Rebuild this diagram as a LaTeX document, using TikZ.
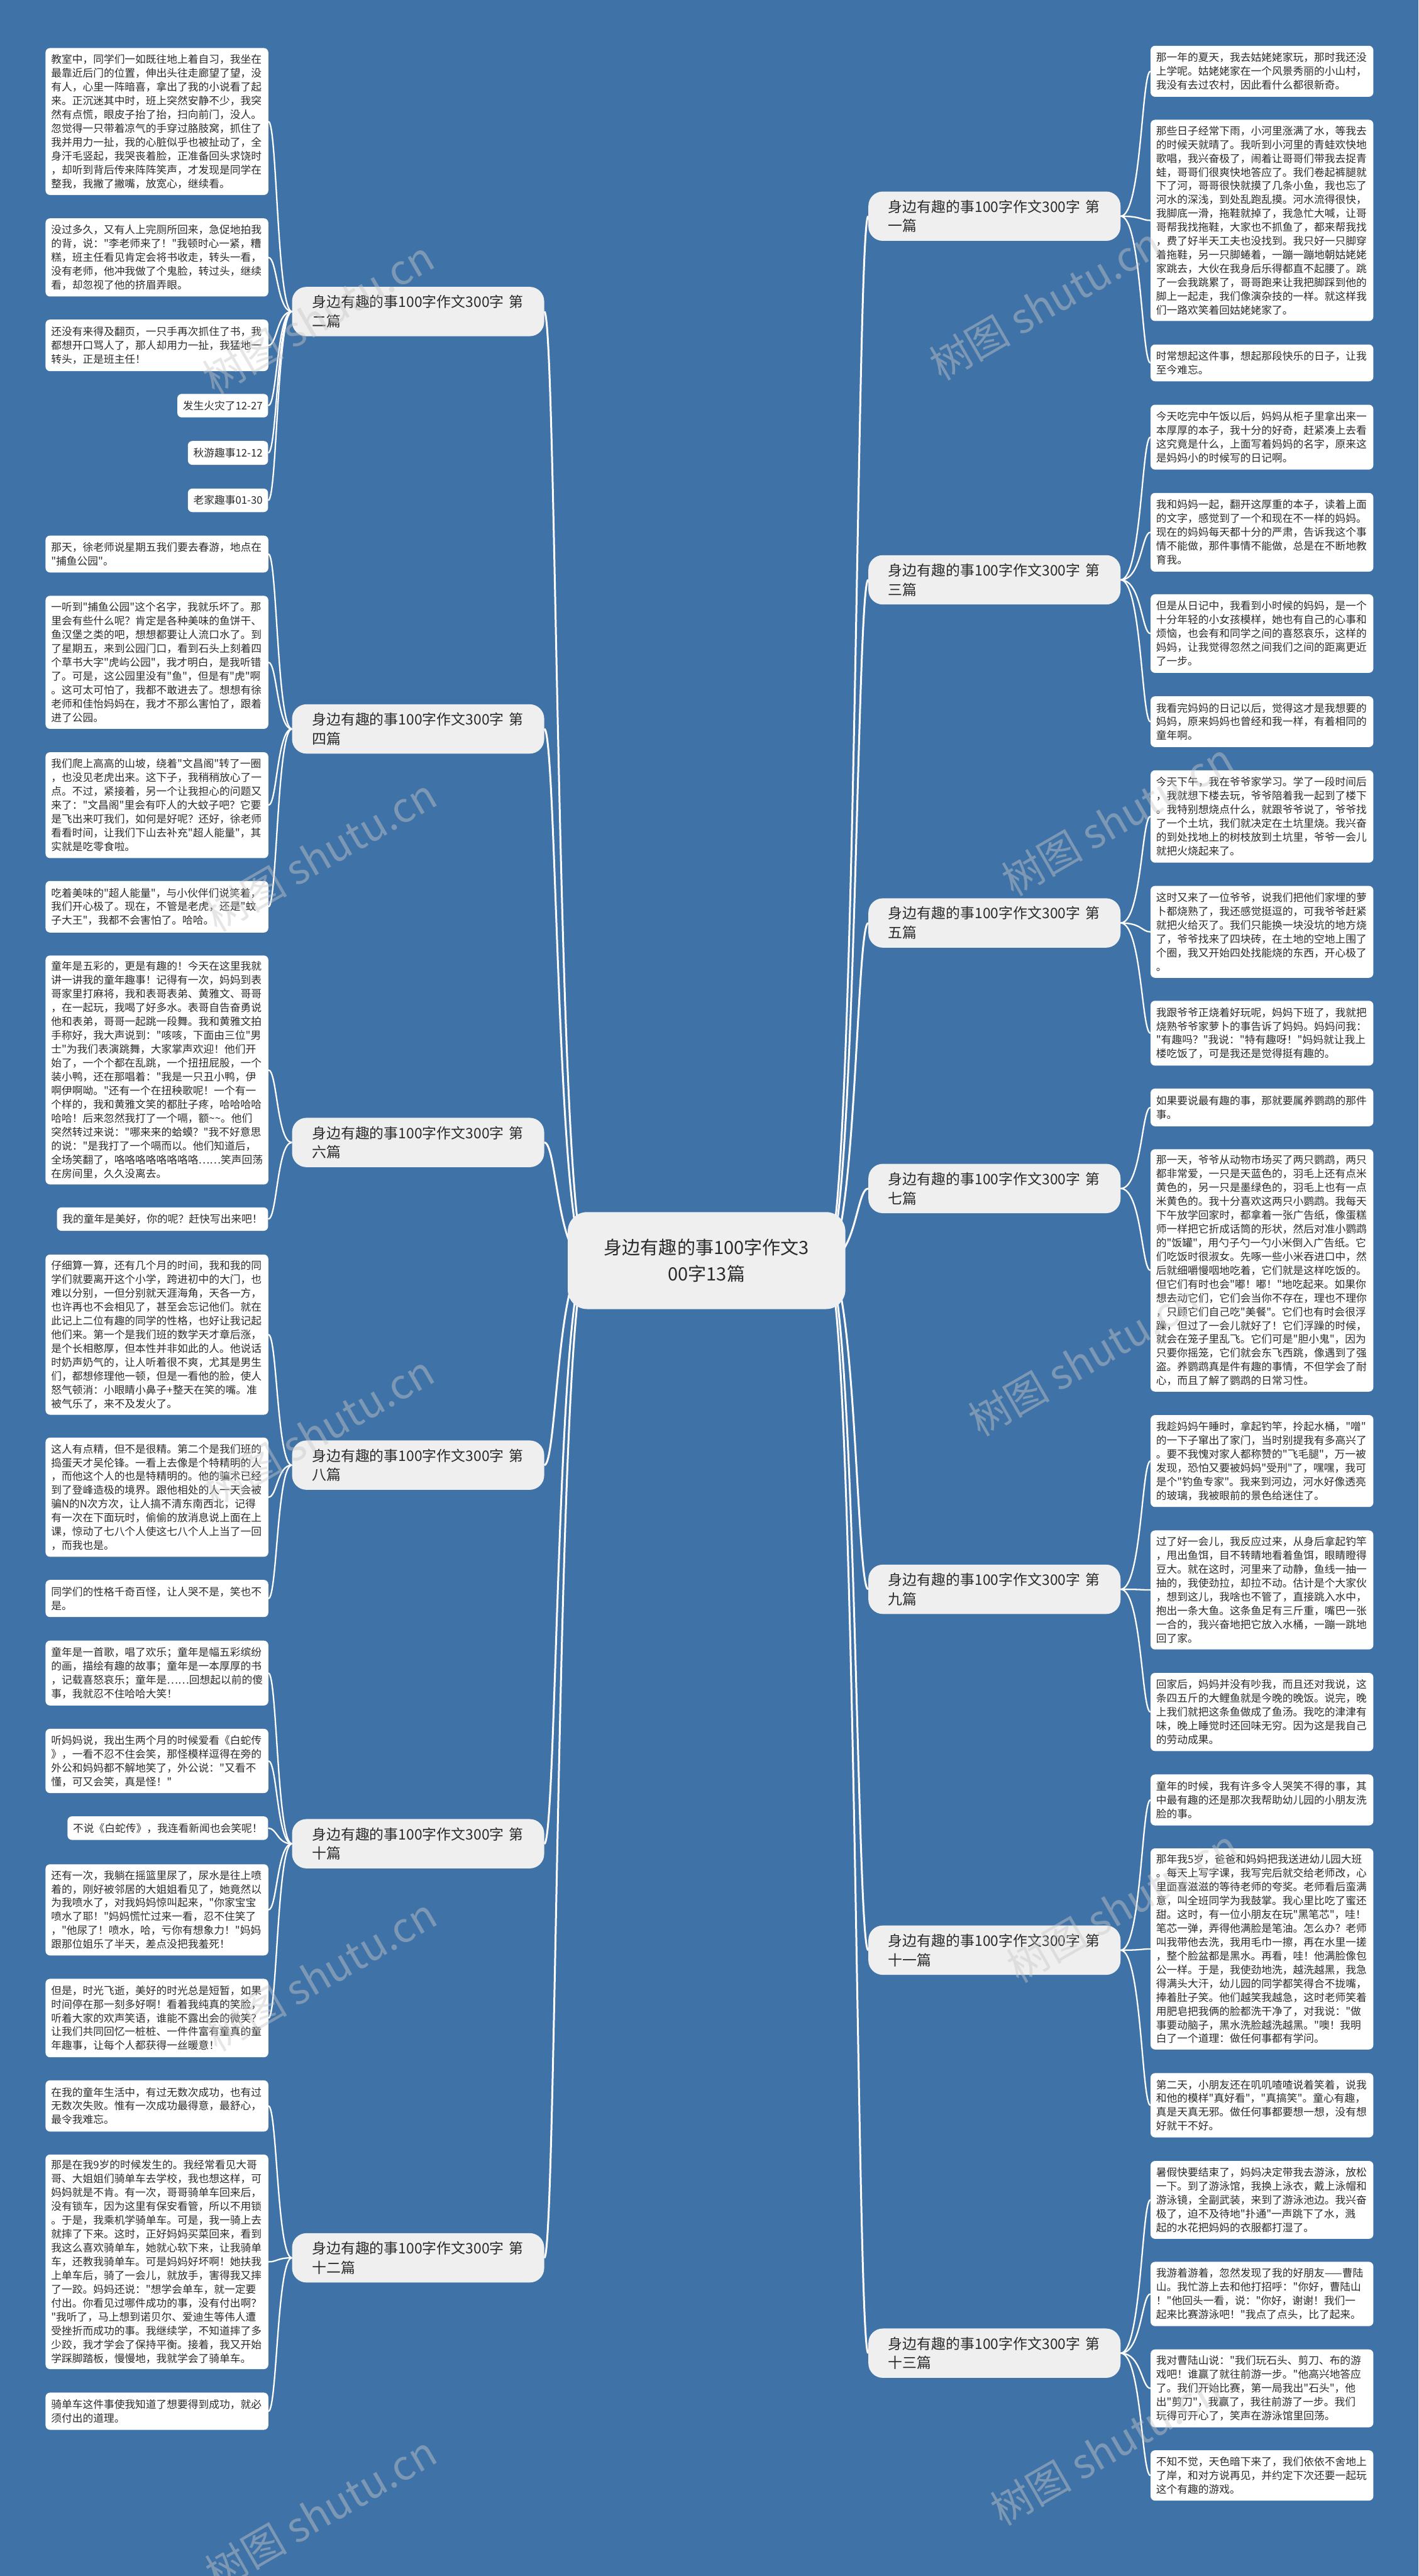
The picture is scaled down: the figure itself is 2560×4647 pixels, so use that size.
\documentclass[tikz,border=0pt]{standalone}
\usepackage{fontspec}
\newfontfamily\cjkf{Noto Sans CJK SC}
\usetikzlibrary{backgrounds}
\definecolor{bgblue}{HTML}{3F72A6}
\definecolor{txt}{HTML}{2B2B2B}
\definecolor{nfill}{HTML}{EFEFEF}
\definecolor{wm}{HTML}{C8C8C8}
\tikzset{
  leaf/.style={fill=white, rounded corners=8pt, inner xsep=10pt, inner ysep=0pt, align=left, text=txt, font=\cjkf\fontsize{19}{24.9}\selectfont},
  branch/.style={fill=nfill, rounded corners=26pt, inner xsep=36pt, inner ysep=0pt, minimum height=89pt, text width=383pt, align=left, text=txt, font=\cjkf\fontsize{26}{35}\selectfont},
  rootnode/.style={fill=nfill, rounded corners=35pt, minimum width=501pt, minimum height=175pt, align=center, text=txt, font=\cjkf\fontsize{33}{48}\selectfont},
  conn/.style={draw=white, line width=2.6pt},
  rconn/.style={draw=white, line width=3.4pt},
  wmark/.style={text=wm, opacity=0.45, font=\cjkf\fontsize{74}{74}\selectfont, rotate=30}
}
\newcommand\LeafL[4]{\node[leaf,anchor=north west,text width=382pt,minimum height=#3pt] (#1) at (82,#2) {#4};}
\newcommand\LeafR[4]{\node[leaf,anchor=north west,text width=382pt,minimum height=#3pt] (#1) at (2076,#2) {#4};}
\newcommand\LeafS[4]{\node[leaf,anchor=north east,minimum height=#3pt] (#1) at (484,#2) {#4};}
\newcommand\ConnL[2]{\draw[conn] (#1.west) .. controls (sL |- #1.west) and (sL |- #2.east) .. (#2.east);}
\newcommand\ConnR[2]{\draw[conn] (#1.east) .. controls (sR |- #1.east) and (sR |- #2.west) .. (#2.west);}
\newcommand\RootL[1]{\draw[rconn] (rootLs) .. controls (sRootL |- rootLs) and (sRootL |- #1.east) .. (#1.east);}
\newcommand\RootR[1]{\draw[rconn] (rootRs) .. controls (sRootR |- rootRs) and (sRootR |- #1.west) .. (#1.west);}
\begin{document}
\begin{tikzpicture}[x=1pt,y=-1pt]
\begin{scope}[on background layer]
\fill[bgblue] (0,0) rectangle (2560,4647);
\end{scope}
\useasboundingbox (0,0) rectangle (2560,4647);
\coordinate (sL) at (500,0);
\coordinate (sR) at (2060,0);
\coordinate (rootLs) at (1060,2274);
\coordinate (rootRs) at (1490,2274);
\coordinate (sRootL) at (1005,0);
\coordinate (sRootR) at (1545,0);

% root
\node[rootnode] (root) at (1275,2274) {身边有趣的事100字作文3\\00字13篇};

% branches
\node[branch] (B1) at (1794.5,390) {身边有趣的事100字作文300字 第\\一篇};
\node[branch] (B3) at (1794.5,1046) {身边有趣的事100字作文300字 第\\三篇};
\node[branch] (B5) at (1794.5,1665) {身边有趣的事100字作文300字 第\\五篇};
\node[branch] (B7) at (1794.5,2144) {身边有趣的事100字作文300字 第\\七篇};
\node[branch] (B9) at (1794.5,2867) {身边有趣的事100字作文300字 第\\九篇};
\node[branch] (B11) at (1794.5,3518) {身边有趣的事100字作文300字 第\\十一篇};
\node[branch] (B13) at (1794.5,4245) {身边有趣的事100字作文300字 第\\十三篇};
\node[branch] (B2) at (754.5,562) {身边有趣的事100字作文300字 第\\二篇};
\node[branch] (B4) at (754.5,1315) {身边有趣的事100字作文300字 第\\四篇};
\node[branch] (B6) at (754.5,2061) {身边有趣的事100字作文300字 第\\六篇};
\node[branch] (B8) at (754.5,2643) {身边有趣的事100字作文300字 第\\八篇};
\node[branch] (B10) at (754.5,3326) {身边有趣的事100字作文300字 第\\十篇};
\node[branch] (B12) at (754.5,4073) {身边有趣的事100字作文300字 第\\十二篇};

% left leaves
\LeafL{L2a}{86.5}{265}{教室中，同学们一如既往地上着自习，我坐在\\最靠近后门的位置，伸出头往走廊望了望，没\\有人，心里一阵暗喜，拿出了我的小说看了起\\来。正沉迷其中时，班上突然安静不少，我突\\然有点慌，眼皮子抬了抬，扫向前门，没人。\\忽觉得一只带着凉气的手穿过胳肢窝，抓住了\\我并用力一扯，我的心脏似乎也被扯动了，全\\身汗毛竖起，我哭丧着脸，正准备回头求饶时\\，却听到背后传来阵阵笑声，才发现是同学在\\整我，我撇了撇嘴，放宽心，继续看。}
\LeafL{L2b}{393.7}{141}{没过多久，又有人上完厕所回来，急促地拍我\\的背，说："李老师来了！"我顿时心一紧，糟\\糕，班主任看见肯定会将书收走，转头一看，\\没有老师，他冲我做了个鬼脸，转过头，继续\\看，却忽视了他的挤眉弄眼。}
\LeafL{L2c}{576.3}{93}{还没有来得及翻页，一只手再次抓住了书，我\\都想开口骂人了，那人却用力一扯，我猛地一\\转头，正是班主任！}
\LeafS{L2d}{710.4}{42.4}{发生火灾了12-27}
\LeafS{L2e}{795.3}{43}{秋游趣事12-12}
\LeafS{L2f}{881.2}{42.4}{老家趣事01-30}
\LeafL{L4a}{966}{66.5}{那天，徐老师说星期五我们要去春游，地点在\\"捕鱼公园"。}
\LeafL{L4b}{1074.6}{240}{一听到"捕鱼公园"这个名字，我就乐坏了。那\\里会有些什么呢？肯定是各种美味的鱼饼干、\\鱼汉堡之类的吧，想想都要让人流口水了。到\\了星期五，来到公园门口，看到石头上刻着四\\个草书大字"虎屿公园"，我才明白，是我听错\\了。可是，这公园里没有"鱼"，但是有"虎"啊\\。这可太可怕了，我都不敢进去了。想想有徐\\老师和佳怡妈妈在，我才不那么害怕了，跟着\\进了公园。}
\LeafL{L4c}{1356.8}{191}{我们爬上高高的山坡，绕着"文昌阁"转了一圈\\，也没见老虎出来。这下子，我稍稍放心了一\\点。不过，紧接着，另一个让我担心的问题又\\来了："文昌阁"里会有吓人的大蚊子吧？它要\\是飞出来叮我们，如何是好呢？还好，徐老师\\看看时间，让我们下山去补充"超人能量"，其\\实就是吃零食啦。}
\LeafL{L4d}{1589}{93}{吃着美味的"超人能量"，与小伙伴们说笑着，\\我们开心极了。现在，不管是老虎，还是"蚊\\子大王"，我都不会害怕了。哈哈。}
\LeafL{L6a}{1723.5}{413}{童年是五彩的，更是有趣的！今天在这里我就\\讲一讲我的童年趣事！记得有一次，妈妈到表\\哥家里打麻将，我和表哥表弟、黄雅文、哥哥\\，在一起玩，我喝了好多水。表哥自告奋勇说\\他和表弟，哥哥一起跳一段舞。我和黄雅文拍\\手称好，我大声说到："咳咳，下面由三位"男\\士"为我们表演跳舞，大家掌声欢迎！他们开\\始了，一个个都在乱跳，一个扭扭屁股，一个\\装小鸭，还在那唱着："我是一只丑小鸭，伊\\啊伊啊呦。"还有一个在扭秧歌呢！一个有一\\个样的，我和黄雅文笑的都肚子疼，哈哈哈哈\\哈哈！后来忽然我打了一个嗝，额\textasciitilde\textasciitilde。他们\\突然转过来说："哪来来的蛤蟆？"我不好意思\\的说："是我打了一个嗝而以。他们知道后，\\全场笑翻了，咯咯咯咯咯咯咯咯……笑声回荡\\在房间里，久久没离去。}
\LeafS{L6b}{2177.9}{42.2}{我的童年是美好，你的呢？赶快写出来吧！}
\LeafL{L8a}{2262.9}{289}{仔细算一算，还有几个月的时间，我和我的同\\学们就要离开这个小学，跨进初中的大门，也\\难以分别，一但分别就天涯海角，天各一方，\\也许再也不会相见了，甚至会忘记他们。就在\\此记上二位有趣的同学的性格，也好让我记起\\他们来。第一个是我们班的数学天才章后涨，\\是个长相憨厚，但本性并非如此的人。他说话\\时奶声奶气的，让人听着很不爽，尤其是男生\\们，都想修理他一顿，但是一看他的脸，使人\\怒气顿消：小眼睛小鼻子+整天在笑的嘴。准\\被气乐了，来不及发火了。}
\LeafL{L8b}{2593.2}{215}{这人有点精，但不是很精。第二个是我们班的\\捣蛋天才吴伦锋。一看上去像是个特精明的人\\，而他这个人的也是特精明的。他的骗术已经\\到了登峰造极的境界。跟他相处的人一天会被\\骗N的N次方次，让人搞不清东南西北，记得\\有一次在下面玩时，偷偷的放消息说上面在上\\课，惊动了七八个人使这七八个人上当了一回\\，而我也是。}
\LeafL{L8c}{2849.9}{67}{同学们的性格千奇百怪，让人哭不是，笑也不\\是。}
\LeafL{L10a}{2959.4}{117}{童年是一首歌，唱了欢乐；童年是幅五彩缤纷\\的画，描绘有趣的故事；童年是一本厚厚的书\\，记载喜怒哀乐；童年是……回想起以前的傻\\事，我就忍不住哈哈大笑！}
\LeafL{L10b}{3118.4}{116}{听妈妈说，我出生两个月的时候爱看《白蛇传\\》，一看不忍不住会笑，那怪模样逗得在旁的\\外公和妈妈都不解地笑了，外公说："又看不\\懂，可又会笑，真是怪！"}
\LeafS{L10c}{3276.4}{42.5}{不说《白蛇传》，我连看新闻也会笑呢！}
\LeafL{L10d}{3362.8}{164.5}{还有一次，我躺在摇篮里尿了，尿水是往上喷\\着的，刚好被邻居的大姐姐看见了，她竟然以\\为我喷水了，对我妈妈惊叫起来，"你家宝宝\\喷水了耶！"妈妈慌忙过来一看，忍不住笑了\\，"他尿了！喷水，哈，亏你有想象力！"妈妈\\跟那位姐乐了半天，差点没把我羞死！}
\LeafL{L10e}{3569.5}{141.5}{但是，时光飞逝，美好的时光总是短暂，如果\\时间停在那一刻多好啊！看着我纯真的笑脸，\\听着大家的欢声笑语，谁能不露出会的微笑？\\让我们共同回忆一桩桩、一件件富有童真的童\\年趣事，让每个人都获得一丝暖意！}
\LeafL{L12a}{3752.6}{92.4}{在我的童年生活中，有过无数次成功，也有过\\无数次失败。惟有一次成功最得意，最舒心，\\最令我难忘。}
\LeafL{L12b}{3886.5}{387}{那是在我9岁的时候发生的。我经常看见大哥\\哥、大姐姐们骑单车去学校，我也想这样，可\\妈妈就是不肯。有一次，哥哥骑单车回来后，\\没有锁车，因为这里有保安看管，所以不用锁\\。于是，我乘机学骑单车。可是，我一骑上去\\就摔了下来。这时，正好妈妈买菜回来，看到\\我这么喜欢骑单车，她就心软下来，让我骑单\\车，还教我骑单车。可是妈妈好坏啊！她扶我\\上单车后，骑了一会儿，就放手，害得我又摔\\了一跤。妈妈还说："想学会单车，就一定要\\付出。你看见过哪件成功的事，没有付出啊？\\"我听了，马上想到诺贝尔、爱迪生等伟人遭\\受挫折而成功的事。我继续学，不知道摔了多\\少跤，我才学会了保持平衡。接着，我又开始\\学踩脚踏板，慢慢地，我就学会了骑单车。}
\LeafL{L12c}{4316}{67}{骑单车这件事使我知道了想要得到成功，就必\\须付出的道理。}

% right leaves
\LeafR{R1a}{82.4}{92}{那一年的夏天，我去姑姥姥家玩，那时我还没\\上学呢。姑姥姥家在一个风景秀丽的小山村，\\我没有去过农村，因此看什么都很新奇。}
\LeafR{R1b}{215.9}{363}{那些日子经常下雨，小河里涨满了水，等我去\\的时候天就晴了。我听到小河里的青蛙欢快地\\歌唱，我兴奋极了，闹着让哥哥们带我去捉青\\蛙，哥哥们很爽快地答应了。我们卷起裤腿就\\下了河，哥哥很快就摸了几条小鱼，我也忘了\\河水的深浅，到处乱跑乱摸。河水流得很快，\\我脚底一滑，拖鞋就掉了，我急忙大喊，让哥\\哥帮我找拖鞋，大家也不抓鱼了，都来帮我找\\，费了好半天工夫也没找到。我只好一只脚穿\\着拖鞋，另一只脚蜷着，一蹦一蹦地朝姑姥姥\\家跳去，大伙在我身后乐得都直不起腰了。跳\\了一会我跳累了，哥哥跑来让我把脚踩到他的\\脚上一起走，我们像演杂技的一样。就这样我\\们一路欢笑着回姑姥姥家了。}
\LeafR{R1c}{621.3}{66.3}{时常想起这件事，想起那段快乐的日子，让我\\至今难忘。}
\LeafR{R3a}{729.9}{117}{今天吃完中午饭以后，妈妈从柜子里拿出来一\\本厚厚的本子，我十分的好奇，赶紧凑上去看\\这究竟是什么，上面写着妈妈的名字，原来这\\是妈妈小的时候写的日记啊。}
\LeafR{R3b}{889}{142}{我和妈妈一起，翻开这厚重的本子，读着上面\\的文字，感觉到了一个和现在不一样的妈妈。\\现在的妈妈每天都十分的严肃，告诉我这个事\\情不能做，那件事情不能做，总是在不断地教\\育我。}
\LeafR{R3c}{1071.9}{141.7}{但是从日记中，我看到小时候的妈妈，是一个\\十分年轻的小女孩模样，她也有自己的心事和\\烦恼，也会有和同学之间的喜怒哀乐，这样的\\妈妈，让我觉得忽然之间我们之间的距离更近\\了一步。}
\LeafR{R3d}{1255.9}{91.6}{我看完妈妈的日记以后，觉得这才是我想要的\\妈妈，原来妈妈也曾经和我一样，有着相同的\\童年啊。}
\LeafR{R5a}{1389.4}{166.6}{今天下午，我在爷爷家学习。学了一段时间后\\，我就想下楼去玩，爷爷陪着我一起到了楼下\\。我特别想烧点什么，就跟爷爷说了，爷爷找\\了一个土坑，我们就决定在土坑里烧。我兴奋\\的到处找地上的树枝放到土坑里，爷爷一会儿\\就把火烧起来了。}
\LeafR{R5b}{1597.9}{165.8}{这时又来了一位爷爷，说我们把他们家埋的萝\\卜都烧熟了，我还感觉挺逗的，可我爷爷赶紧\\就把火给灭了。我们只能换一块没坑的地方烧\\了，爷爷找来了四块砖，在土地的空地上围了\\个圈，我又开始四处找能烧的东西，开心极了\\。}
\LeafR{R5c}{1805.1}{117}{我跟爷爷正烧着好玩呢，妈妈下班了，我就把\\烧熟爷爷家萝卜的事告诉了妈妈。妈妈问我：\\"有趣吗？"我说："特有趣呀！"妈妈就让我上\\楼吃饭了，可是我还是觉得挺有趣的。}
\LeafR{R7a}{1963.5}{68}{如果要说最有趣的事，那就要属养鹦鹉的那件\\事。}
\LeafR{R7b}{2072.9}{437.3}{那一天，爷爷从动物市场买了两只鹦鹉，两只\\都非常爱，一只是天蓝色的，羽毛上还有点米\\黄色的，另一只是墨绿色的，羽毛上也有一点\\米黄色的。我十分喜欢这两只小鹦鹉。我每天\\下午放学回家时，都拿着一张广告纸，像蛋糕\\师一样把它折成话筒的形状，然后对准小鹦鹉\\的"饭罐"，用勺子勺一勺小米倒入广告纸。它\\们吃饭时很淑女。先啄一些小米吞进口中，然\\后就细嚼慢咽地吃着，它们就是这样吃饭的。\\但它们有时也会"嘟！嘟！"地吃起来。如果你\\想去动它们，它们会当你不存在，理也不理你\\，只顾它们自己吃"美餐"。它们也有时会很浮\\躁，但过了一会儿就好了！它们浮躁的时候，\\就会在笼子里乱飞。它们可是"胆小鬼"，因为\\只要你摇笼，它们就会东飞西跳，像遇到了强\\盗。养鹦鹉真是件有趣的事情，不但学会了耐\\心，而且了解了鹦鹉的日常习性。}
\LeafR{R9a}{2552.5}{165.8}{我趁妈妈午睡时，拿起钓竿，拎起水桶，"噌"\\的一下子窜出了家门，当时别提我有多高兴了\\。要不我愧对家人都称赞的"飞毛腿"，万一被\\发现，恐怕又要被妈妈"受刑"了，嘿嘿，我可\\是个"钓鱼专家"。我来到河边，河水好像透亮\\的玻璃，我被眼前的景色给迷住了。}
\LeafR{R9b}{2760.6}{214.7}{过了好一会儿，我反应过来，从身后拿起钓竿\\，甩出鱼饵，目不转睛地看着鱼饵，眼睛瞪得\\豆大。就在这时，河里来了动静，鱼线一抽一\\抽的，我使劲拉，却拉不动。估计是个大家伙\\，想到这儿，我啥也不管了，直接跳入水中，\\抱出一条大鱼。这条鱼足有三斤重，嘴巴一张\\一合的，我兴奋地把它放入水桶，一蹦一跳地\\回了家。}
\LeafR{R9c}{3017.6}{141}{回家后，妈妈并没有吵我，而且还对我说，这\\条四五斤的大鲤鱼就是今晚的晚饭。说完，晚\\上我们就把这条鱼做成了鱼汤。我吃的津津有\\味，晚上睡觉时还回味无穷。因为这是我自己\\的劳动成果。}
\LeafR{R11a}{3200.8}{92}{童年的时候，我有许多令人哭笑不得的事，其\\中最有趣的还是那次我帮助幼儿园的小朋友洗\\脸的事。}
\LeafR{R11b}{3334.2}{362.7}{那年我5岁，爸爸和妈妈把我送进幼儿园大班\\。每天上写字课，我写完后就交给老师改，心\\里面喜滋滋的等待老师的夸奖。老师看后蛮满\\意，叫全班同学为我鼓掌。我心里比吃了蜜还\\甜。这时，有一位小朋友在玩"黑笔芯"，哇！\\笔芯一弹，弄得他满脸是笔油。怎么办？老师\\叫我带他去洗，我用毛巾一擦，再在水里一搓\\，整个脸盆都是黑水。再看，哇！他满脸像包\\公一样。于是，我使劲地洗，越洗越黑，我急\\得满头大汗，幼儿园的同学都笑得合不拢嘴，\\捧着肚子笑。他们越笑我越急，这时老师笑着\\用肥皂把我俩的脸都洗干净了，对我说："做\\事要动脑子，黑水洗脸越洗越黑。"噢！我明\\白了一个道理：做任何事都有学问。}
\LeafR{R11c}{3739.6}{116}{第二天，小朋友还在叽叽喳喳说着笑着，说我\\和他的模样"真好看"，"真搞笑"。童心有趣，\\真是天真无邪。做任何事都要想一想，没有想\\好就干不好。}
\LeafR{R13a}{3898}{140.5}{暑假快要结束了，妈妈决定带我去游泳，放松\\一下。到了游泳馆，我换上泳衣，戴上泳帽和\\游泳镜，全副武装，来到了游泳池边。我兴奋\\极了，迫不及待地"扑通"一声跳下了水，溅\\起的水花把妈妈的衣服都打湿了。}
\LeafR{R13b}{4080}{116}{我游着游着，忽然发现了我的好朋友——曹陆\\山。我忙游上去和他打招呼："你好，曹陆山\\！"他回头一看，说："你好，谢谢！我们一\\起来比赛游泳吧！"我点了点头，比了起来。}
\LeafR{R13c}{4238}{140.5}{我对曹陆山说："我们玩石头、剪刀、布的游\\戏吧！谁赢了就往前游一步。"他高兴地答应\\了。我们开始比赛，第一局我出"石头"，他\\出"剪刀"，我赢了，我往前游了一步。我们\\玩得可开心了，笑声在游泳馆里回荡。}
\LeafR{R13d}{4420}{90.7}{不知不觉，天色暗下来了，我们依依不舍地上\\了岸，和对方说再见，并约定下次还要一起玩\\这个有趣的游戏。}

\begin{scope}[on background layer]
\RootR{B1}\RootR{B3}\RootR{B5}\RootR{B7}\RootR{B9}\RootR{B11}\RootR{B13}
\RootL{B2}\RootL{B4}\RootL{B6}\RootL{B8}\RootL{B10}\RootL{B12}
\ConnL{B2}{L2a}\ConnL{B2}{L2b}\ConnL{B2}{L2c}\ConnL{B2}{L2d}\ConnL{B2}{L2e}\ConnL{B2}{L2f}
\ConnL{B4}{L4a}\ConnL{B4}{L4b}\ConnL{B4}{L4c}\ConnL{B4}{L4d}
\ConnL{B6}{L6a}\ConnL{B6}{L6b}
\ConnL{B8}{L8a}\ConnL{B8}{L8b}\ConnL{B8}{L8c}
\ConnL{B10}{L10a}\ConnL{B10}{L10b}\ConnL{B10}{L10c}\ConnL{B10}{L10d}\ConnL{B10}{L10e}
\ConnL{B12}{L12a}\ConnL{B12}{L12b}\ConnL{B12}{L12c}
\ConnR{B1}{R1a}\ConnR{B1}{R1b}\ConnR{B1}{R1c}
\ConnR{B3}{R3a}\ConnR{B3}{R3b}\ConnR{B3}{R3c}\ConnR{B3}{R3d}
\ConnR{B5}{R5a}\ConnR{B5}{R5b}\ConnR{B5}{R5c}
\ConnR{B7}{R7a}\ConnR{B7}{R7b}
\ConnR{B9}{R9a}\ConnR{B9}{R9b}\ConnR{B9}{R9c}
\ConnR{B11}{R11a}\ConnR{B11}{R11b}\ConnR{B11}{R11c}
\ConnR{B13}{R13a}\ConnR{B13}{R13b}\ConnR{B13}{R13c}\ConnR{B13}{R13d}
\end{scope}

% watermarks
\node[wmark,anchor=west] (w1) at (370,690) {树图 shutu.cn};
\node[wmark,anchor=west] (w2) at (375,1660) {树图 shutu.cn};
\node[wmark,anchor=west] (w3) at (370,2700) {树图 shutu.cn};
\node[wmark,anchor=west] (w4) at (375,3680) {树图 shutu.cn};
\node[wmark,anchor=west] (w9) at (375,4650) {树图 shutu.cn};
\node[wmark,anchor=east] (w5) at (2090,430) {树图 shutu.cn};
\node[wmark,anchor=east] (w6) at (2220,1360) {树图 shutu.cn};
\node[wmark,anchor=east] (w7) at (2160,2335) {树图 shutu.cn};
\node[wmark,anchor=east] (w8) at (2230,3320) {树图 shutu.cn};
\node[wmark,anchor=east] (w10) at (2200,4300) {树图 shutu.cn};
\end{tikzpicture}
\end{document}
